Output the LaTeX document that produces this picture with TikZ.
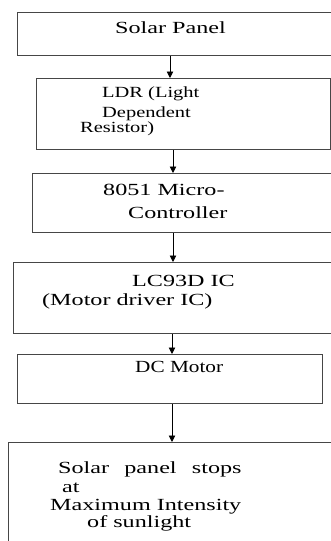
\documentclass[tikz,border=0pt]{standalone}
\usepackage{fontspec}
\usepackage{graphicx}
\setmainfont{Liberation Serif}
\usetikzlibrary{arrows.meta}
\definecolor{boxline}{RGB}{70,70,70}
\newcommand{\wide}[2][1.42]{{\fontsize{17}{20}\selectfont\scalebox{#1}[1.0]{#2}}}
\newcommand{\widesm}[1]{{\fontsize{15.5}{18}\selectfont\scalebox{1.32}[1.0]{#1}}}
\tikzset{
  box/.style={draw=boxline, line width=1pt, rectangle, inner sep=0pt, anchor=north west},
  txt/.style={anchor=base west, inner sep=0pt, text=black},
  arr/.style={draw=black, line width=0.9pt, -{Triangle[width=6.5pt,length=6.5pt]}}
}
\begin{document}
\begin{tikzpicture}[x=1pt,y=-1pt]
\useasboundingbox (0,0) rectangle (331,541);
\clip (0,0) rectangle (331,541);
\node[box, minimum width=320pt, minimum height=43pt] (b1) at (17,12) {};
\node[box, minimum width=294pt, minimum height=71pt] (b2) at (36,78) {};
\node[box, minimum width=305pt, minimum height=59pt] (b3) at (32,173) {};
\node[box, minimum width=325pt, minimum height=71pt] (b4) at (13,262) {};
\node[box, minimum width=305pt, minimum height=49pt] (b5) at (17,354) {};
\node[box, minimum width=330pt, minimum height=110pt] (b6) at (8,442) {};
\node[txt] (t1) at (115,33) {\wide{Solar Panel}};
\node[txt] (t2a) at (102,97) {\widesm{LDR (Light}};
\node[txt] (t2b) at (102,117) {\widesm{Dependent}};
\node[txt] (t2c) at (80,132) {\widesm{Resistor)}};
\node[txt] (t3a) at (103,195) {\wide{8051 Micro-}};
\node[txt] (t3b) at (128,218) {\wide{Controller}};
\node[txt] (t4a) at (132,286) {\wide{LC93D IC}};
\node[txt] (t4b) at (42,305) {\wide{(Motor driver IC)}};
\node[txt] (t5) at (135,372) {\wide[1.25]{DC Motor}};
\node[txt] (t6a) at (58,473) {\wide{Solar\hspace{6.5pt} panel\hspace{6.5pt} stops}};
\node[txt] (t6b) at (62,492) {\wide{at}};
\node[txt] (t6c) at (50,510) {\wide{Maximum Intensity}};
\node[txt] (t6d) at (87,527) {\wide{of sunlight}};
\coordinate (a1) at (170,0);
\coordinate (a2) at (173,0);
\coordinate (a3) at (173,0);
\coordinate (a4) at (172,0);
\coordinate (a5) at (172,0);
\draw[arr] (b1.south -| a1) -- (b2.north -| a1);
\draw[arr] (b2.south -| a2) -- (b3.north -| a2);
\draw[arr] (b3.south -| a3) -- (b4.north -| a3);
\draw[arr] (b4.south -| a4) -- (b5.north -| a4);
\draw[arr] (b5.south -| a5) -- (b6.north -| a5);
\end{tikzpicture}
\end{document}
